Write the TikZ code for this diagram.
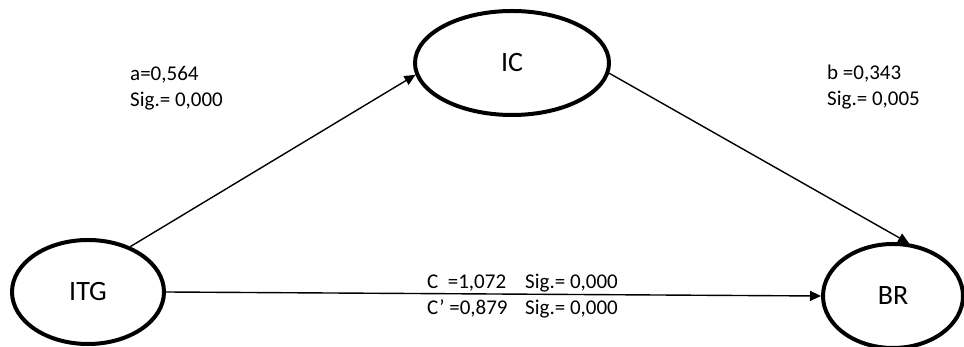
\documentclass[tikz,border=0pt]{standalone}
\usepackage{fontspec}
\setmainfont{Carlito}
\usetikzlibrary{arrows.meta,shapes.geometric}
\begin{document}
\begin{tikzpicture}[x=1pt,y=1pt,
  var/.style={draw,ellipse,line width=4pt,inner sep=0pt,font=\fontsize{28}{32}\selectfont},
  lbl/.style={anchor=base west,inner sep=0pt,font=\fontsize{21}{25}\selectfont},
  conn/.style={line width=1.4pt,-{Triangle[length=11pt,width=10pt]}}]
\useasboundingbox (0,0) rectangle (964,347);
\node[var,minimum width=152pt,minimum height=104pt] (ITG) at (88,55) {ITG};
\node[var,minimum width=194pt,minimum height=104pt] (IC) at (512,284) {IC};
\node[var,minimum width=140pt,minimum height=104pt] (BR) at (893,51) {BR};
\draw[conn] (ITG.47) -- (IC.187);
\draw[conn] (IC.-6) -- (BR.73);
\draw[conn] (ITG.east) -- (BR.west);
\node[lbl] (a1) at (130,266) {a=0,564};
\node[lbl] (a2) at (130,240) {Sig.= 0,000};
\node[lbl] (b1) at (827,267) {b =0,343};
\node[lbl] (b2) at (827,241) {Sig.= 0,005};
\node[lbl] (c1) at (427,58) {C\ \ =1,072};
\node[lbl] (s1) at (525,58) {Sig.= 0,000};
\node[lbl] (c2) at (427,32) {C’ =0,879};
\node[lbl] (s2) at (525,32) {Sig.= 0,000};
\end{tikzpicture}
\end{document}
